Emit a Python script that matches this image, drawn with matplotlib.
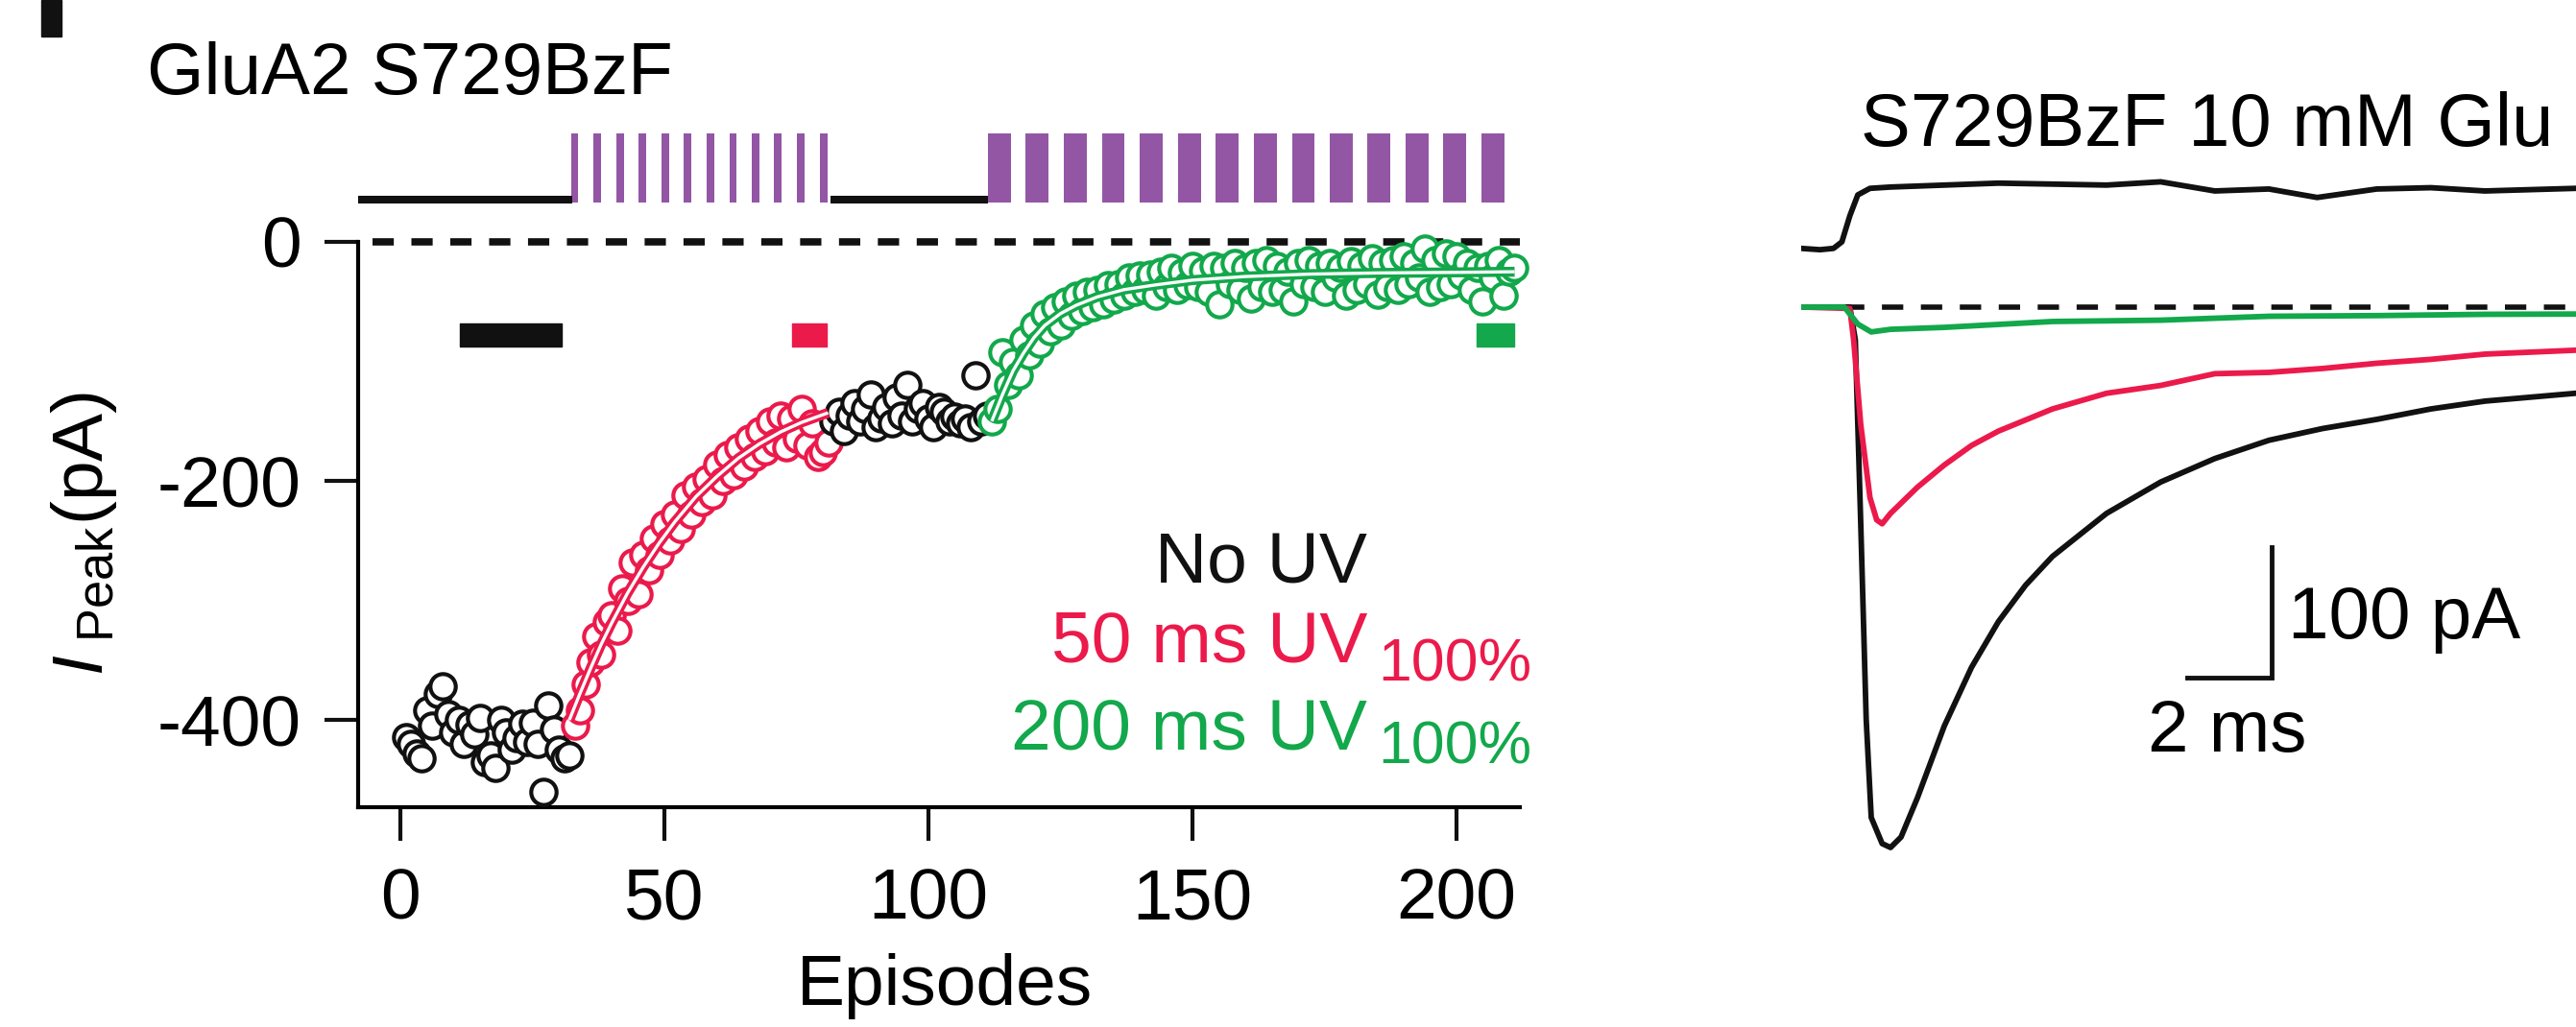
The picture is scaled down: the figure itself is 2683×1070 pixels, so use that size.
import matplotlib
matplotlib.use('Agg')
import matplotlib.pyplot as plt
from matplotlib.patches import Rectangle

plt.rcParams['font.family'] = ['Liberation Sans', 'DejaVu Sans']
plt.rcParams['mathtext.fontset'] = 'custom'
plt.rcParams['mathtext.rm'] = 'Liberation Sans'
plt.rcParams['mathtext.it'] = 'Liberation Sans:italic'

W, H = 2683, 1070
BLACK = '#111111'
RED = '#EB1A4B'
GREEN = '#12A84B'
PURPLE = '#9356A5'
FS = 54

# ---- left panel: peak current per episode (pA)
noUV1_start = 1
noUV1_peak = [-414, -420, -428, -432, -392, -405, -378, -372, -395, -410, -400, -420,
              -404, -412, -398, -435, -430, -440, -400, -410, -425, -415, -403, -418,
              -402, -420, -460, -388, -408, -425, -432, -430]
uv50_start = 33
uv50_peak = [-405, -392, -370, -352, -330, -345, -318, -312, -325, -290, -300, -268,
             -295, -262, -275, -248, -262, -236, -250, -228, -240, -212, -228, -205,
             -218, -198, -212, -186, -200, -178, -195, -172, -188, -165, -180, -158,
             -175, -150, -168, -145, -172, -148, -165, -140, -170, -152, -180, -176, -168]
noUV2_start = 82
noUV2_peak = [-150, -142, -158, -145, -135, -150, -140, -128, -155, -148, -138, -152,
              -130, -145, -120, -150, -140, -135, -148, -155, -138, -142, -150, -146,
              -152, -148, -155, -112, -150, -145]
uv200_start = 112
uv200_peak = [-150, -140, -92, -120, -100, -112, -82, -95, -70, -85, -60, -75, -55, -70,
              -50, -62, -45, -58, -42, -55, -40, -52, -36, -48, -35, -45, -30, -42, -28,
              -40, -27, -45, -25, -38, -22, -40, -26, -36, -20, -38, -24, -42, -20, -52,
              -22, -35, -18, -40, -22, -47, -18, -38, -15, -42, -20, -40, -25, -50, -18,
              -35, -15, -38, -20, -42, -18, -30, -22, -45, -16, -40, -20, -35, -14, -44,
              -18, -38, -15, -40, -12, -35, -18, -30, -6, -42, -15, -38, -10, -35, -12,
              -28, -18, -40, -22, -50, -20, -30, -15, -45, -25, -22]

# exponential fits
fit50_ep = [32, 34, 36, 38, 40, 43, 46, 49, 52, 56, 60, 64, 68, 72, 76, 81]
fit50_pA = [-400, -378, -357, -337, -319, -294, -272, -252, -234, -213, -196, -181,
            -169, -159, -151, -143]
fit200_ep = [112, 114, 116, 118, 120, 122, 125, 128, 132, 137, 143, 150, 160, 172, 185, 200, 211]
fit200_pA = [-150, -128, -108, -93, -80, -70, -60, -53, -46, -40, -36, -32, -29, -27,
             -26, -25.5, -25]

# UV protocol (episode of each pulse) and no-UV stretches
pulse50_ep = [33.0, 37.3, 41.6, 45.9, 50.1, 54.4, 58.7, 63.0, 67.3, 71.5, 75.8, 80.1]
pulse200_ep = [113.4, 120.6, 127.8, 135.0, 142.2, 149.4, 156.6, 163.8, 171.0, 178.1,
               185.3, 192.5, 199.7, 206.9]
noUV_from = [-8, 81.5]
noUV_to = [32.5, 111.3]

# episodes averaged for the traces
win_from = [11.3, 74.2, 203.8]
win_to = [30.5, 80.7, 210.9]
win_color = [BLACK, RED, GREEN]

# ---- right panel: averaged traces (ms, pA)
tr_black_t = [0.06, 1.16, 1.29, 1.42, 1.55, 1.67, 1.93, 2.13, 2.38, 2.77, 3.41, 4.06,
              4.70, 5.35, 5.99, 7.28, 8.57, 9.86, 11.15, 12.43, 13.72, 15.01, 16.30, 18.46]
tr_black_pA = [0, 0, -25, -166, -316, -391, -411, -414, -406, -376, -321, -276, -241,
               -213, -191, -158, -134, -116, -102, -93, -86, -78, -72, -66]
tr_red_t = [0.06, 1.16, 1.25, 1.42, 1.64, 1.80, 1.93, 2.13, 2.77, 3.41, 4.06, 4.70,
            5.99, 7.28, 8.57, 9.86, 11.15, 12.43, 13.72, 15.01, 16.30, 18.46]
tr_red_pA = [0, -1, -25, -90, -146, -163, -166, -158, -138, -121, -106, -95, -78, -66,
             -60, -51, -50, -47, -43, -40, -36, -33]
tr_green_t = [0.06, 1.03, 1.35, 1.67, 2.13, 3.41, 5.99, 8.57, 11.15, 13.72, 16.30, 18.46]
tr_green_pA = [0, 0, -13, -19, -17, -15.5, -11, -10, -7, -6.5, -5.5, -5.3]
tr_junc_t = [0.0, 0.45, 0.77, 0.97, 1.16, 1.35, 1.64, 2.13, 4.70, 7.28, 8.57, 9.86,
             11.15, 12.30, 13.72, 15.01, 16.30, 18.46]
tr_junc_pA = [45, 44, 45, 50, 70, 86, 91, 92, 95, 93.5, 96, 89, 90.5, 84, 90.5, 91.5, 89, 91]


def box(x0, top, x1, bottom):
    return [x0 / W, (H - bottom) / H, (x1 - x0) / W, (bottom - top) / H]


fig = plt.figure(figsize=(W / 100, H / 100), dpi=100)

# left panel
ax = fig.add_axes(box(373, 252, 1583, 841))
ax.set_xlim(-8, 212)
ax.set_ylim(-473, 0)
for s in ['top', 'right']:
    ax.spines[s].set_visible(False)
for s in ['left', 'bottom']:
    ax.spines[s].set_linewidth(3)
ax.tick_params(length=25, width=3, labelsize=FS, color=BLACK)
ax.tick_params(axis='y', pad=18)
ax.tick_params(axis='x', pad=20)
ax.set_xticks([0, 50, 100, 150, 200])
ax.set_yticks([0, -200, -400])
ax.set_yticklabels(['0', '-200', '-400'])

ax.axhline(0, xmin=0.012, xmax=1, color=BLACK, lw=5.5, dashes=(2.9, 2.4), clip_on=False, zorder=1)

for a, b, c in zip(win_from, win_to, win_color):
    ax.broken_barh([(a, b - a)], (-87.5, 19.5), color=c, zorder=2)

series = [(noUV1_start, noUV1_peak, BLACK), (uv50_start, uv50_peak, RED),
          (noUV2_start, noUV2_peak, BLACK), (uv200_start, uv200_peak, GREEN)]
for start, vals, c in series:
    ep = list(range(start, start + len(vals)))
    ax.plot(ep, vals, 'o', ms=19, mfc='white', mec=c, mew=3, zorder=3, clip_on=False)

for ep, pa, c in [(fit50_ep, fit50_pA, RED), (fit200_ep, fit200_pA, GREEN)]:
    ax.plot(ep, pa, color=c, lw=7.5, zorder=4, solid_capstyle='butt')
    ax.plot(ep, pa, color='white', lw=2.4, zorder=5, solid_capstyle='butt')

# UV protocol above the plot
ax_s = fig.add_axes(box(373, 120, 1583, 220), sharex=ax)
ax_s.set_ylim(0, 100)
ax_s.axis('off')
ax_s.hlines([12.5] * len(noUV_from), noUV_from, noUV_to, color=BLACK, lw=5.8)
ax_s.bar(pulse50_ep, 72, bottom=9, width=1.45, color=PURPLE)
ax_s.bar(pulse200_ep, 72, bottom=9, width=4.36, color=PURPLE)

fig.text(153 / W, 1 - 98 / H, 'GluA2 S729BzF', fontsize=55, va='baseline')
fig.text(984 / W, 1 - 1047 / H, 'Episodes', fontsize=FS, ha='center', va='baseline')
fig.text(88 / W, 1 - 556 / H, r'$\mathit{I}_{\ \mathrm{Peak}}$(pA)', fontsize=FS,
         rotation=90, ha='center', va='center')

fig.text(1424 / W, 1 - 608 / H, 'No UV', fontsize=FS, ha='right', va='baseline', color=BLACK)
fig.text(1424 / W, 1 - 690 / H, '50 ms UV', fontsize=FS, ha='right', va='baseline', color=RED)
fig.text(1435 / W, 1 - 710 / H, '100%', fontsize=45, ha='left', va='baseline', color=RED)
fig.text(1424 / W, 1 - 782 / H, '200 ms UV', fontsize=FS, ha='right', va='baseline', color=GREEN)
fig.text(1435 / W, 1 - 795 / H, '100%', fontsize=45, ha='left', va='baseline', color=GREEN)

# cropped panel letter at the corner
fig.patches.append(Rectangle((43 / W, 1 - 38 / H), 21 / W, 38 / H, transform=fig.transFigure,
                             color=BLACK))

# right panel: traces
axr = fig.add_axes(box(1876, 0, 2683, 1070))
axr.set_xlim(0, 18.47)
axr.set_ylim(-551.5, 235.3)
axr.axis('off')
axr.hlines(0, 0.06, 18.47, colors=BLACK, lw=4, linestyles=(0, (4, 3.3)))
axr.plot(tr_junc_t, tr_junc_pA, color=BLACK, lw=4.2)
axr.plot(tr_black_t, tr_black_pA, color=BLACK, lw=4.2)
axr.plot(tr_red_t, tr_red_pA, color=RED, lw=4.2)
axr.plot(tr_green_t, tr_green_pA, color=GREEN, lw=4.2)

# scale bar 2 ms / 100 pA
sb_t, sb_pA = 11.21, -283.5
axr.plot([sb_t - 2, sb_t, sb_t], [sb_pA, sb_pA, sb_pA + 100], color=BLACK, lw=3.5,
         solid_joinstyle='miter')
axr.text(sb_t + 0.4, sb_pA + 30, '100 pA', fontsize=55, va='baseline', ha='left')
axr.text(sb_t - 1.05, sb_pA - 57, '2 ms', fontsize=55, va='baseline', ha='center')

fig.text(1938 / W, 1 - 152 / H, 'S729BzF 10 mM Glu', fontsize=56, va='baseline')

fig.savefig('out.png', dpi=100)
